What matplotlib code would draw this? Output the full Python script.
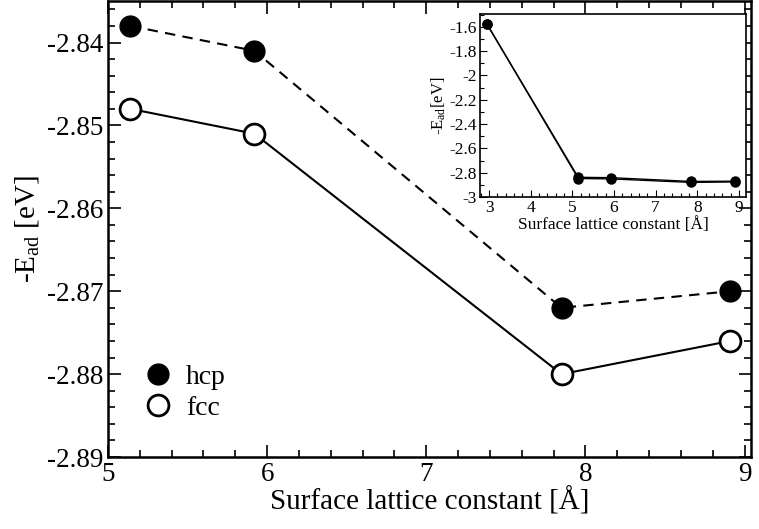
import numpy as np
import matplotlib
matplotlib.use("Agg")
import matplotlib.pyplot as plt
from matplotlib.ticker import MultipleLocator

plt.rcParams["font.family"] = ["Liberation Serif", "DejaVu Serif"]
plt.rcParams["mathtext.fontset"] = "custom"
plt.rcParams["mathtext.rm"] = "Liberation Serif"
plt.rcParams["mathtext.it"] = "Liberation Serif:italic"

# --- data ---
lattice = [5.14, 5.92, 7.85, 8.91]
e_hcp = [-2.838, -2.841, -2.872, -2.870]
e_fcc = [-2.848, -2.851, -2.880, -2.876]

lattice_inset = [2.95, 5.14, 5.92, 7.85, 8.91]
e_hcp_inset = [-1.58, -2.838, -2.841, -2.872, -2.870]
e_fcc_inset = [-1.58, -2.848, -2.851, -2.880, -2.876]

fig = plt.figure(figsize=(7.59, 5.29), dpi=100)
ax = fig.add_axes([0.1423, 0.136, 0.847, 0.862])

ax.plot(lattice, e_hcp, color="black", lw=1.5, ls=(0, (5, 3.5)),
        marker="o", ms=15, mfc="black", mec="black", label="hcp")
ax.plot(lattice, e_fcc, color="black", lw=1.5, ls="-",
        marker="o", ms=15, mfc="white", mec="black", mew=2, label="fcc")

ax.set_xlim(5, 9.04)
ax.set_ylim(-2.89, -2.835)
ax.xaxis.set_major_locator(MultipleLocator(1))
ax.xaxis.set_minor_locator(MultipleLocator(0.2))
ax.yaxis.set_minor_locator(MultipleLocator(0.002))
ax.set_yticks([-2.89, -2.88, -2.87, -2.86, -2.85, -2.84])
ax.set_yticklabels(["-2.89", "-2.88", "-2.87", "-2.86", "-2.85", "-2.84"])
ax.tick_params(which="both", direction="in", top=True, right=True, labelsize=19.5, width=1.2)
ax.tick_params(which="major", length=9)
ax.tick_params(which="minor", length=5)
for s in ax.spines.values():
    s.set_linewidth(1.8)
ax.set_xlabel("Surface lattice constant [Å]", fontsize=21, labelpad=0)
ax.set_ylabel("-E$_{\\rm ad}$ [eV]", fontsize=21, labelpad=4)

leg = ax.legend(loc="lower left", bbox_to_anchor=(0.022, 0.025), frameon=False,
                fontsize=20, handlelength=0.8, handletextpad=0.6,
                labelspacing=0.2)
for h in leg.legend_handles:
    h.set_linestyle("none")

# --- inset ---
axi = fig.add_axes([0.6324, 0.6276, 0.3505, 0.346])
axi.plot(lattice_inset, e_fcc_inset, color="black", lw=1.0,
         marker="o", ms=6.5, mfc="black", mec="black")
axi.plot(lattice_inset, e_hcp_inset, color="black", lw=1.0,
         marker="o", ms=6.5, mfc="black", mec="black")
axi.set_xlim(2.78, 9.17)
axi.set_ylim(-3.0, -1.495)
axi.xaxis.set_major_locator(MultipleLocator(1))
axi.xaxis.set_minor_locator(MultipleLocator(0.2))
axi.yaxis.set_minor_locator(MultipleLocator(0.1))
axi.set_yticks([-3, -2.8, -2.6, -2.4, -2.2, -2, -1.8, -1.6])
axi.set_yticklabels(["-3", "-2.8", "-2.6", "-2.4", "-2.2", "-2", "-1.8", "-1.6"])
axi.tick_params(which="both", direction="in", labelsize=12.5, width=0.8, pad=2)
axi.tick_params(which="major", length=5)
axi.tick_params(which="minor", length=3)
for s in axi.spines.values():
    s.set_linewidth(1.2)
axi.set_xlabel("Surface lattice constant [Å]", fontsize=12.5, labelpad=1)
axi.set_ylabel("-E$_{\\rm ad}$[eV]", fontsize=12, labelpad=1)

fig.savefig("out.png", dpi=100)
